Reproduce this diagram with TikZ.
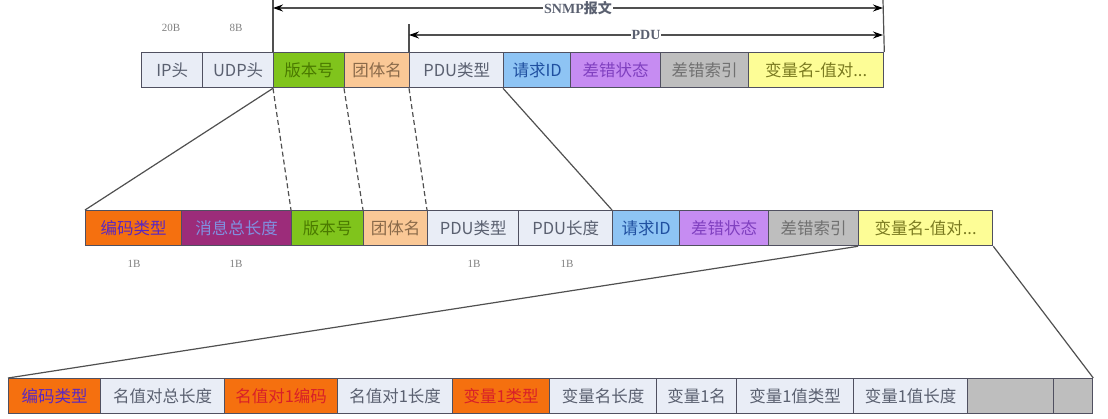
\documentclass[tikz,border=0pt]{standalone}
\usepackage{fontspec}
\setmainfont{Liberation Serif}
\newfontfamily\cjk{Noto Sans CJK SC}
\usetikzlibrary{arrows.meta}
\definecolor{bordc}{HTML}{505060}
\definecolor{lightc}{HTML}{E9EDF6}
\definecolor{greenc}{HTML}{80C41C}
\definecolor{peachc}{HTML}{FAC896}
\definecolor{bluec}{HTML}{8EC4F4}
\definecolor{purplec}{HTML}{C68CF2}
\definecolor{grayc}{HTML}{BEBEBE}
\definecolor{yellowc}{HTML}{FDFD96}
\definecolor{orangec}{HTML}{F5700F}
\definecolor{magentac}{HTML}{9C2C7A}
\definecolor{txtgray}{HTML}{5A6070}
\definecolor{txtgreen}{HTML}{4A7A00}
\definecolor{txtbrown}{HTML}{8A6A4A}
\definecolor{txtblue}{HTML}{2050A0}
\definecolor{txtpurple}{HTML}{8040C0}
\definecolor{txtdgray}{HTML}{707070}
\definecolor{txtolive}{HTML}{7A7A20}
\definecolor{txtviolet}{HTML}{5A28C0}
\definecolor{txtlblue}{HTML}{8090E0}
\definecolor{txtred}{HTML}{D82028}
\definecolor{linec}{HTML}{505050}
\begin{document}
\begin{tikzpicture}[x=1pt,y=-1pt,
  cell/.style={draw=bordc, line width=1.3pt, minimum height=35pt, inner sep=0pt,
    anchor=north west, font=\cjk\fontsize{16.5}{16.5}\selectfont},
  lightcell/.style={cell, fill=lightc, text=txtgray},
  greencell/.style={cell, fill=greenc, text=txtgreen},
  peachcell/.style={cell, fill=peachc, text=txtbrown},
  bluecell/.style={cell, fill=bluec, text=txtblue},
  purplecell/.style={cell, fill=purplec, text=txtpurple},
  graycell/.style={cell, fill=grayc, text=txtdgray},
  yellowcell/.style={cell, fill=yellowc, text=txtolive},
  orangecell/.style={cell, fill=orangec, text=txtviolet},
  orangered/.style={cell, fill=orangec, text=txtred},
  magcell/.style={cell, fill=magentac, text=txtlblue},
  sizelbl/.style={font=\fontsize{11}{11}\selectfont, text=gray},
  conn/.style={draw=linec, line width=1.2pt},
  dconn/.style={conn, dash pattern=on 5pt off 3pt},
  dimarrow/.style={draw=linec, line width=1.1pt, {Stealth[length=10pt,width=7pt,black]}-{Stealth[length=10pt,width=7pt,black]}},
  dimlbl/.style={fill=white, inner sep=1pt, font=\fontsize{14}{14}\selectfont\bfseries, text=txtgray}
]
\useasboundingbox (0,0) rectangle (1108,418);

% ---------- top row ----------
\node[lightcell, minimum width=61pt] (t1) at (141,52) {IP头};
\node[lightcell, minimum width=71pt] (t2) at (202,52) {UDP头};
\node[greencell, minimum width=71pt] (t3) at (273,52) {版本号};
\node[peachcell, minimum width=65pt] (t4) at (344,52) {团体名};
\node[lightcell, minimum width=94pt] (t5) at (409,52) {PDU类型};
\node[bluecell, minimum width=67pt] (t6) at (503,52) {请求ID};
\node[purplecell, minimum width=90pt] (t7) at (570,52) {差错状态};
\node[graycell, minimum width=88pt] (t8) at (660,52) {差错索引};
\node[yellowcell, minimum width=135pt] (t9) at (748,52) {变量名-值对...};

\node[sizelbl] (l20) at (171,28) {20B};
\node[sizelbl] (l8) at (236,28) {8B};

% dimension lines
\coordinate (vL) at (273,0);
\coordinate (vR) at (883,0);
\coordinate (vP) at (409,24);
\coordinate (sL) at (273,8);
\coordinate (sR) at (883,8);
\coordinate (pL) at (409,35);
\coordinate (pR) at (883,35);
\draw[conn] (t3.north west) -- (vL);
\draw[conn] (t9.north east) -- (vR);
\draw[conn] (t5.north west) -- (vP);
\draw[dimarrow] (sL) -- node[dimlbl] (snmp) {SNMP\cjk 报文} (sR);
\draw[dimarrow] (pL) -- node[dimlbl] (pdu) {PDU} (pR);

% ---------- middle row ----------
\node[orangecell, minimum width=96pt] (m1) at (85,210) {编码类型};
\node[magcell, minimum width=110pt] (m2) at (181,210) {消息总长度};
\node[greencell, minimum width=72pt] (m3) at (291,210) {版本号};
\node[peachcell, minimum width=64pt] (m4) at (363,210) {团体名};
\node[lightcell, minimum width=91pt] (m5) at (427,210) {PDU类型};
\node[lightcell, minimum width=94pt] (m6) at (518,210) {PDU长度};
\node[bluecell, minimum width=67pt] (m7) at (612,210) {请求ID};
\node[purplecell, minimum width=89pt] (m8) at (679,210) {差错状态};
\node[graycell, minimum width=90pt] (m9) at (768,210) {差错索引};
\node[yellowcell, minimum width=134pt] (m10) at (858,210) {变量名-值对...};

\node[sizelbl] (b1a) at (134,264) {1B};
\node[sizelbl] (b1b) at (236,264) {1B};
\node[sizelbl] (b1c) at (474,264) {1B};
\node[sizelbl] (b1d) at (567,264) {1B};

% connectors top -> middle
\draw[conn] (t3.south west) -- (m1.north west);
\draw[dconn] (t3.south west) -- (m3.north west);
\draw[dconn] (t4.south west) -- (m4.north west);
\draw[dconn] (t5.south west) -- (m5.north west);
\draw[conn] (t6.south west) -- (m7.north west);

% ---------- bottom row ----------
\node[orangecell, minimum width=92pt] (b1) at (8,378) {编码类型};
\node[lightcell, minimum width=124pt] (b2) at (100,378) {名值对总长度};
\node[orangered, minimum width=113pt] (b3) at (224,378) {名值对1编码};
\node[lightcell, minimum width=115pt] (b4) at (337,378) {名值对1长度};
\node[orangered, minimum width=97pt] (b5) at (452,378) {变量1类型};
\node[lightcell, minimum width=107pt] (b6) at (549,378) {变量名长度};
\node[lightcell, minimum width=80pt] (b7) at (656,378) {变量1名};
\node[lightcell, minimum width=117pt] (b8) at (736,378) {变量1值类型};
\node[lightcell, minimum width=114pt] (b9) at (853,378) {变量1值长度};
\node[graycell, minimum width=86pt] (b10) at (967,378) {};
\node[graycell, minimum width=39pt] (b11) at (1053,378) {};

% connectors middle -> bottom
\draw[conn] (m10.south west) -- (b1.north west);
\draw[conn] (m10.south east) -- (b11.north east);
\end{tikzpicture}
\end{document}
